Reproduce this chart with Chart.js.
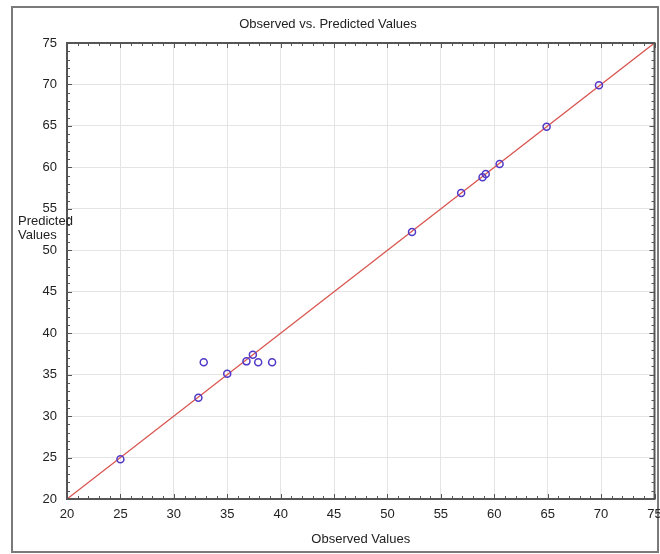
<!DOCTYPE html>
<html>
<head>
	<title>Observed vs. Predicted Values</title>
	<script src="https://cdn.jsdelivr.net/npm/chart.js@4.4.1/dist/chart.umd.min.js"></script>
	<style>
		html, body { margin: 0; padding: 0; background: #fff; }
		#wrap { width: 660px; height: 554px; }
	</style>
</head>
<body>
<div id="wrap">
	<canvas id="chart" width="660" height="554"></canvas>
</div>

<script type="text/javascript">
	// valores
	var observados = [25, 32.3, 32.8, 35.0, 36.8, 37.4, 37.9, 39.2, 52.3, 56.9, 58.9, 59.2, 60.5, 64.9, 69.8];
	var predichos  = [24.8, 32.2, 36.5, 35.1, 36.6, 37.4, 36.5, 36.5, 52.2, 56.9, 58.8, 59.2, 60.4, 64.9, 69.9];
	var lineaX = [20, 75]; // recta y = x
	var ejeMin = 20, ejeMax = 75, paso = 5;

	var puntos = observados.map(function (v, i) { return { x: v, y: predichos[i] }; });
	var recta = lineaX.map(function (v) { return { x: v, y: v }; });

	var fuente = "'Liberation Sans', Arial, sans-serif";
	Chart.defaults.font.family = fuente;
	Chart.defaults.font.size = 13;
	Chart.defaults.color = '#222';

	// marco, ticks menores y titulo del eje y
	var decoracion = {
		id: 'decoracion',
		beforeDraw: function (chart) {
			var ctx = chart.ctx;
			ctx.save();
			ctx.fillStyle = '#fff';
			ctx.fillRect(0, 0, chart.width, chart.height);
			ctx.strokeStyle = '#7a7a7a';
			ctx.lineWidth = 2;
			ctx.strokeRect(12, 7, 646, 545);
			ctx.restore();
		},
		afterDraw: function (chart) {
			var ctx = chart.ctx, a = chart.chartArea;
			var sx = chart.scales.x, sy = chart.scales.y;
			ctx.save();
			ctx.strokeStyle = '#555';
			ctx.lineWidth = 2;
			ctx.strokeRect(a.left, a.top, a.right - a.left, a.bottom - a.top);
			ctx.lineWidth = 1;
			ctx.beginPath();
			for (var v = ejeMin; v <= ejeMax; v++) {
				var largo = (v % paso === 0) ? 5 : 3;
				var px = Math.round(sx.getPixelForValue(v)) + 0.5;
				var py = Math.round(sy.getPixelForValue(v)) + 0.5;
				ctx.moveTo(px, a.bottom); ctx.lineTo(px, a.bottom - largo);
				ctx.moveTo(px, a.top); ctx.lineTo(px, a.top + largo);
				ctx.moveTo(a.left, py); ctx.lineTo(a.left + largo, py);
				ctx.moveTo(a.right, py); ctx.lineTo(a.right - largo, py);
			}
			ctx.stroke();
			ctx.fillStyle = '#222';
			ctx.font = '13px ' + fuente;
			ctx.textAlign = 'left';
			ctx.textBaseline = 'middle';
			ctx.fillText('Predicted', 18, 221);
			ctx.fillText('Values', 18, 235);
			ctx.restore();
		}
	};

	var canvas = document.getElementById('chart').getContext('2d');
	window.grafico = new Chart(canvas, {
		type: 'scatter',
		data: {
			datasets: [{
				label: 'Predicted',
				data: puntos,
				pointStyle: 'circle',
				pointRadius: 3.5,
				pointBorderWidth: 1.5,
				pointBorderColor: '#5038c8',
				pointBackgroundColor: 'rgba(255,255,255,0)',
				order: 1
			}, {
				type: 'line',
				label: 'y = x',
				data: recta,
				borderColor: '#d9544f',
				borderWidth: 1.3,
				pointRadius: 0,
				fill: false,
				order: 2
			}]
		},
		options: {
			responsive: false,
			animation: false,
			layout: { padding: { left: 0, right: 4, top: 0, bottom: 0 } },
			plugins: {
				legend: { display: false },
				tooltip: { enabled: false },
				title: {
					display: true,
					text: 'Observed vs. Predicted Values',
					font: { size: 13, weight: 'normal' },
					color: '#222',
					padding: { top: 17, bottom: 10.4 }
				}
			},
			scales: {
				x: {
					type: 'linear',
					min: ejeMin, max: ejeMax,
					ticks: { stepSize: paso, padding: 8, color: '#222' },
					grid: { color: '#e4e4e4', drawTicks: false },
					border: { display: true, color: '#555', width: 2 },
					title: {
						display: true,
						text: 'Observed Values',
						font: { size: 13 },
						color: '#222',
						padding: { top: 0, bottom: 7 }
					},
					afterFit: function (scale) {
						scale.height = 55;
						scale.paddingLeft = 0;
						scale.paddingRight = 0;
					}
				},
				y: {
					type: 'linear',
					min: ejeMin, max: ejeMax,
					ticks: { stepSize: paso, padding: 10, color: '#222' },
					grid: { color: '#e4e4e4', drawTicks: false },
					border: { display: true, color: '#555', width: 2 },
					afterFit: function (scale) {
						scale.width = 67;
						scale.paddingTop = 0;
						scale.paddingBottom = 0;
					}
				}
			}
		},
		plugins: [decoracion]
	});
</script>
</body>
</html>
